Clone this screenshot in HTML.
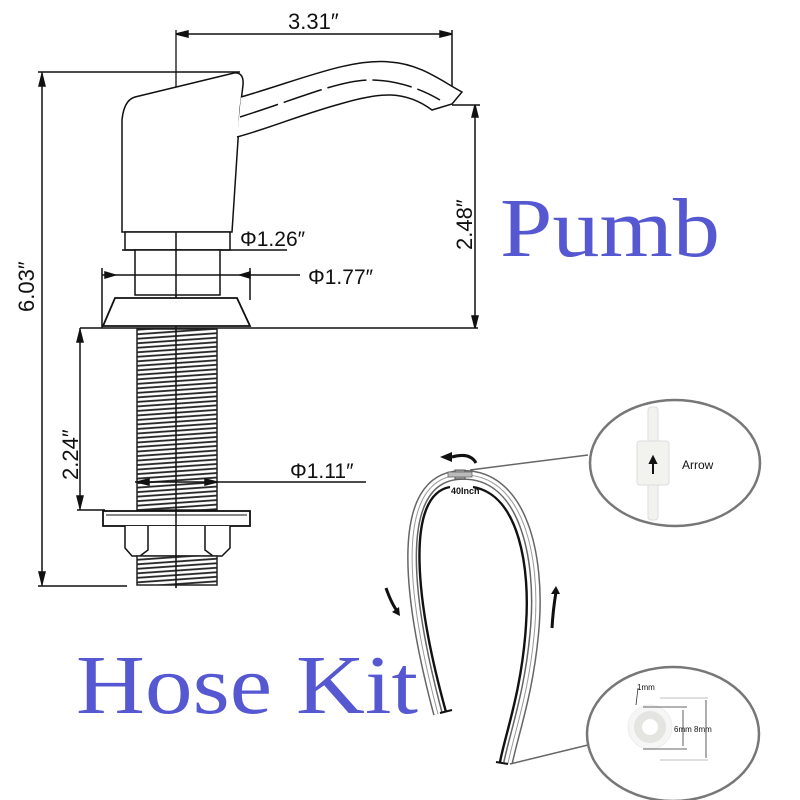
<!DOCTYPE html>
<html><head><meta charset="utf-8"><style>
html,body{margin:0;padding:0;background:#fff}
svg{display:block}
.t{font-family:"Liberation Sans",sans-serif;fill:#111}
</style></head><body>
<svg width="800" height="800" viewBox="0 0 800 800" xmlns="http://www.w3.org/2000/svg">
<defs>
<pattern id="hatch" width="8" height="4.5" patternUnits="userSpaceOnUse" patternTransform="rotate(-4)">
<rect width="8" height="4.5" fill="#fff"/>
<line x1="0" y1="1" x2="8" y2="1" stroke="#222" stroke-width="1.8"/>
</pattern>
</defs>
<g stroke="#111" fill="none" stroke-width="1.5">
<line x1="176" y1="34" x2="452" y2="34"/>
<line x1="452" y1="30" x2="452" y2="100"/>
<path d="M176,34 l12,-3 v6z M452,34 l-12,-3 v6z" fill="#111"/>
<line x1="176" y1="30" x2="176" y2="588" stroke-width="1.3"/>
<path d="M122,232 L122,120 Q124,100 135,97 L234,73 Q244,72 243,85 L240,110 L238,140 L232,232 Z" fill="#fff"/>
<path d="M241,97 C300,80 350,58 390,62 C420,64 440,80 462,92 L452,104 L432,110 C405,90 380,92 340,104 C300,115 270,128 237,137" fill="#fff"/>
<path d="M240,117 C300,98 340,80 370,80 C395,80 420,88 440,100" stroke-dasharray="40,6"/>
<line x1="176" y1="139" x2="176" y2="150" stroke="#fff" stroke-width="3"/>
<line x1="452" y1="105" x2="480" y2="105"/>
<line x1="475" y1="105" x2="475" y2="328"/>
<path d="M475,105 l-3,12 h6z M475,328 l-3,-12 h6z" fill="#111"/>
<rect x="125" y="232" width="105" height="18" fill="#fff"/>
<line x1="122" y1="250" x2="287" y2="250"/>
<rect x="135" y="250" width="85" height="45" fill="#fff"/>
<line x1="176" y1="232" x2="176" y2="300"/>
<line x1="102" y1="275" x2="300" y2="275"/>
<line x1="102" y1="268" x2="102" y2="328"/>
<line x1="250" y1="268" x2="250" y2="300"/>
<path d="M115,275 l-10,-3 v6z M240,275 l10,-3 v6z" fill="#111"/>
<path d="M115,298 L237,298 L250,326 L103,326 Z" fill="#fff" stroke-width="1.8"/>
<line x1="80" y1="328" x2="478" y2="328"/>
<line x1="38" y1="72" x2="240" y2="72"/>
<line x1="42" y1="72" x2="42" y2="586"/>
<line x1="38" y1="586" x2="127" y2="586"/>
<path d="M42,74 l-3,12 h6z M42,584 l-3,-12 h6z" fill="#111"/>
<rect x="137" y="329" width="80" height="181" fill="url(#hatch)" stroke="#222"/>
<line x1="176" y1="329" x2="176" y2="510"/>
<line x1="80" y1="328" x2="80" y2="510"/>
<line x1="77" y1="510" x2="105" y2="510"/>
<path d="M80,330 l-3,12 h6z M80,508 l-3,-12 h6z" fill="#111"/>
<line x1="135" y1="482" x2="366" y2="482"/>
<path d="M137,482 l12,-3 v6z M217,482 l-12,-3 v6z" fill="#111"/>
<rect x="103" y="511" width="147" height="15" fill="#fff" stroke-width="1.8"/>
<line x1="106" y1="515" x2="247" y2="515" stroke-width="1"/>
<path d="M125,526 L125,548 L132,556 L222,556 L230,548 L230,526" fill="#fff"/>
<path d="M148,526 V550 L140,556 M205,526 V550 L213,556"/>
<rect x="137" y="556" width="80" height="29" fill="url(#hatch)" stroke="#222"/>
<line x1="176" y1="511" x2="176" y2="588"/>
</g>
<g class="t">
<text x="288" y="29" font-size="22">3.31″</text>
<text x="240" y="246" font-size="21">Φ1.26″</text>
<text x="308" y="284" font-size="21">Φ1.77″</text>
<text x="290" y="478" font-size="21">Φ1.11″</text>
<text transform="translate(472,250) rotate(-90)" font-size="22">2.48″</text>
<text transform="translate(34,312) rotate(-90)" font-size="22">6.03″</text>
<text transform="translate(78,480) rotate(-90)" font-size="22">2.24″</text>
</g>
<text x="500" y="256" font-family="Liberation Serif,serif" font-size="84" fill="#5558d0" textLength="220" lengthAdjust="spacingAndGlyphs">Pumb</text>
<text x="76" y="713" font-family="Liberation Serif,serif" font-size="84" fill="#5558d0" textLength="342" lengthAdjust="spacingAndGlyphs">Hose Kit</text>
<g fill="none">
<path d="M438,714 C405,590 395,478 460,475 C525,472 540,560 535,625 C530,690 515,730 508,763" stroke="#666" stroke-width="10"/>
<path d="M438,714 C405,590 395,478 460,475 C525,472 540,560 535,625 C530,690 515,730 508,763" stroke="#fff" stroke-width="7"/>
<path d="M438,714 C405,590 395,478 460,475 C525,472 540,560 535,625 C530,690 515,730 508,763" stroke="#999" stroke-width="1"/>
<path d="M446,712 C415,600 405,495 450,487 M473,487 C520,495 530,570 526,625 C522,690 505,735 500,762" stroke="#111" stroke-width="2.4"/>
<line x1="440" y1="713" x2="452" y2="710" stroke="#111" stroke-width="2"/>
<line x1="496" y1="762" x2="508" y2="764" stroke="#111" stroke-width="2"/>
<line x1="470" y1="470" x2="588" y2="455" stroke="#666" stroke-width="1.5"/>
<line x1="510" y1="764" x2="588" y2="745" stroke="#666" stroke-width="1.5"/>
<ellipse cx="675" cy="463" rx="85" ry="63" stroke="#777" stroke-width="2.5" fill="#fff"/>
<ellipse cx="673" cy="734" rx="86" ry="67" stroke="#777" stroke-width="2.5" fill="#fff"/>
<path d="M476,463 Q470,452 452,457" stroke="#111" stroke-width="3"/>
<path d="M386,588 Q392,605 398,612" stroke="#111" stroke-width="3"/>
<path d="M552,628 Q553,610 556,592" stroke="#111" stroke-width="3"/>
</g>
<rect x="455" y="470" width="10" height="9" fill="#aaa" stroke="#555"/>
<rect x="448" y="472" width="24" height="5" fill="#bbb" stroke="#666" stroke-width="0.8"/>
<path d="M440,457 l12,-5 v10z" fill="#111"/>
<path d="M400,616 l-8,-4 l7,-5z" fill="#111"/>
<path d="M556,586 l-5,8 h9z" fill="#111"/>
<text x="451" y="494" font-family="Liberation Sans,sans-serif" font-size="9" font-weight="bold" fill="#111">40Inch</text>
<g fill="#f2f2ee" stroke="#ddd">
<rect x="648" y="407" width="10" height="36" rx="3"/>
<rect x="648" y="482" width="10" height="38" rx="3"/>
<rect x="637" y="441" width="32" height="44" rx="3"/>
</g>
<path d="M653,474 v-12 M653,457 l-3,6 h6z" stroke="#111" stroke-width="2" fill="#111"/>
<text x="682" y="469" font-family="Liberation Sans,sans-serif" font-size="12" fill="#111">Arrow</text>
<ellipse cx="650" cy="727" rx="22" ry="22" fill="#f6f6f6" stroke="#eee"/>
<circle cx="650" cy="727" r="16" fill="#e4e4e0"/>
<circle cx="650" cy="727" r="8" fill="#fff"/>
<g stroke="#333" stroke-width="0.8" fill="#111">
<line x1="643" y1="707" x2="687" y2="707"/>
<line x1="643" y1="749" x2="687" y2="749"/>
<line x1="660" y1="698" x2="708" y2="698" stroke="#aaa"/>
<line x1="660" y1="760" x2="708" y2="760" stroke="#aaa"/>
<line x1="683" y1="710" x2="683" y2="746"/>
<line x1="706" y1="700" x2="706" y2="758"/>
<line x1="636" y1="705" x2="638" y2="688"/>
</g>
<text x="637" y="690" font-family="Liberation Sans,sans-serif" font-size="8" fill="#111">1mm</text>
<text x="674" y="732" font-family="Liberation Sans,sans-serif" font-size="8" fill="#111">6mm 8mm</text>
</svg>
</body></html>
